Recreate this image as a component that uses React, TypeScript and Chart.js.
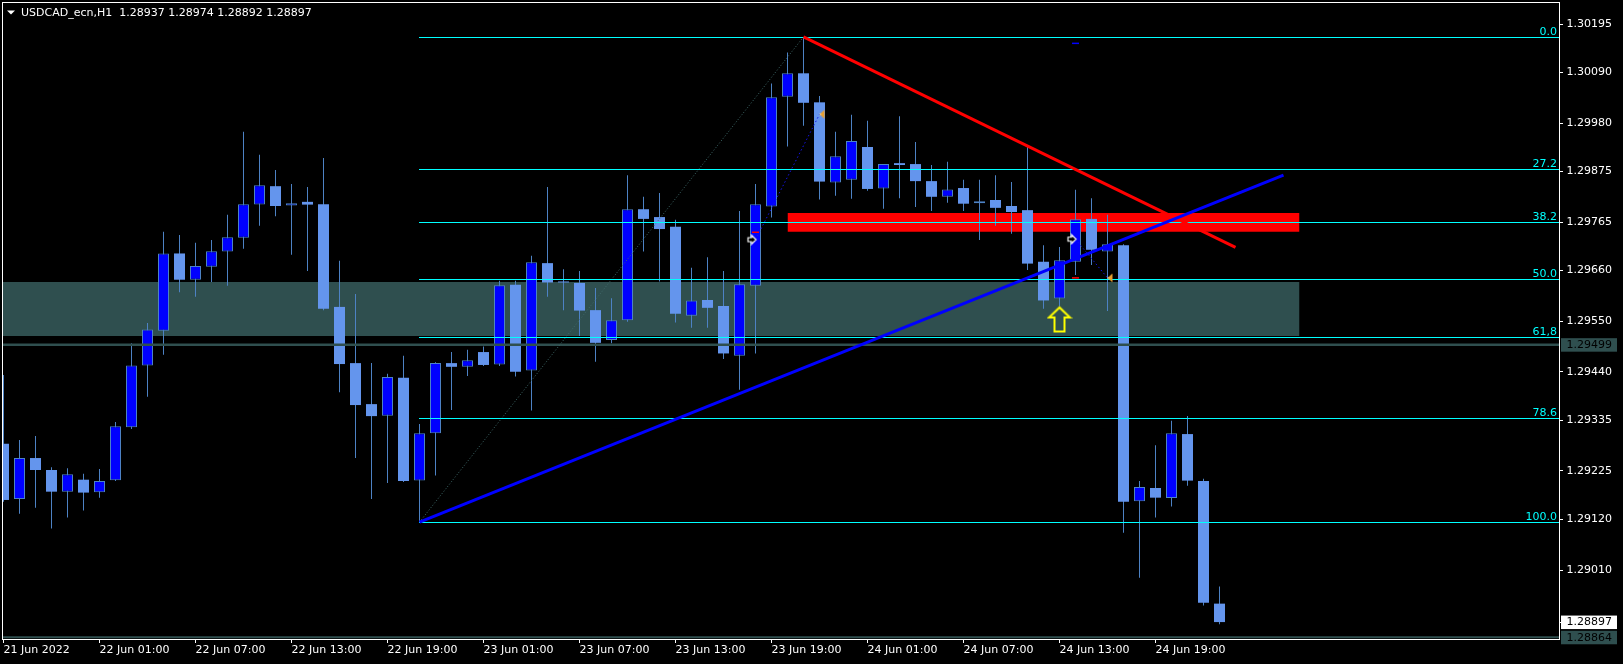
import React, { useEffect, useRef } from "react";
import { Chart, registerables } from "chart.js";

Chart.register(...registerables);

// ---------------- data ----------------
const SYMBOL = "USDCAD_ecn,H1";

const opens = [
  1.29284, 1.29164, 1.29253, 1.29227, 1.29180, 1.29206, 1.29179, 1.29205, 1.29320, 1.29454,
  1.29529, 1.29697, 1.29640, 1.29668, 1.29701, 1.29731, 1.29803, 1.29843, 1.29801, 1.29809,
  1.29804, 1.29581, 1.29459, 1.29370, 1.29345, 1.29427, 1.29204, 1.29307, 1.29459, 1.29451,
  1.29483, 1.29456, 1.29629, 1.29443, 1.29676, 1.29636, 1.29633, 1.29574, 1.29509, 1.29552,
  1.29793, 1.29776, 1.29755, 1.29562, 1.29596, 1.29583, 1.29475, 1.29627, 1.29799, 1.30037,
  1.30088, 1.30025, 1.29851, 1.29857, 1.29928, 1.29838, 1.29893, 1.29891, 1.29854, 1.29820,
  1.29839, 1.29806, 1.29813, 1.29800, 1.29791, 1.29679, 1.29599, 1.29679, 1.29772, 1.29701,
  1.29715, 1.29159, 1.29188, 1.29166, 1.29305, 1.29203, 1.28937,
];
const highs = [
  1.29433, 1.29292, 1.29301, 1.29233, 1.29231, 1.29219, 1.29229, 1.29331, 1.29502, 1.29546,
  1.29744, 1.29737, 1.29720, 1.29726, 1.29781, 1.29961, 1.29911, 1.29878, 1.29848, 1.29841,
  1.29904, 1.29681, 1.29609, 1.29459, 1.29436, 1.29475, 1.29327, 1.29461, 1.29483, 1.29488,
  1.29495, 1.29638, 1.29638, 1.29692, 1.29841, 1.29663, 1.29659, 1.29622, 1.29600, 1.29867,
  1.29820, 1.29828, 1.29770, 1.29666, 1.29689, 1.29659, 1.29789, 1.29848, 1.30066, 1.30133,
  1.30167, 1.30039, 1.29961, 1.29998, 1.29985, 1.29891, 1.29995, 1.29939, 1.29889, 1.29896,
  1.29857, 1.29857, 1.29867, 1.29852, 1.29932, 1.29715, 1.29711, 1.29835, 1.29817, 1.29781,
  1.29717, 1.29203, 1.29281, 1.29334, 1.29344, 1.29208, 1.28974,
];
const lows = [
  1.29158, 1.29132, 1.29145, 1.29100, 1.29124, 1.29139, 1.29167, 1.29203, 1.29316, 1.29386,
  1.29477, 1.29613, 1.29603, 1.29635, 1.29627, 1.29707, 1.29757, 1.29778, 1.29694, 1.29659,
  1.29574, 1.29396, 1.29253, 1.29164, 1.29199, 1.29201, 1.29114, 1.29215, 1.29357, 1.29431,
  1.29453, 1.29453, 1.29430, 1.29356, 1.29603, 1.29574, 1.29518, 1.29462, 1.29502, 1.29549,
  1.29701, 1.29636, 1.29547, 1.29536, 1.29536, 1.29468, 1.29401, 1.29480, 1.29775, 1.29929,
  1.29974, 1.29814, 1.29822, 1.29816, 1.29833, 1.29794, 1.29817, 1.29798, 1.29789, 1.29807,
  1.29789, 1.29726, 1.29757, 1.29740, 1.29661, 1.29577, 1.29582, 1.29650, 1.29672, 1.29572,
  1.29091, 1.28993, 1.29124, 1.29148, 1.29193, 1.28933, 1.28892,
];
const closes = [
  1.29162, 1.29253, 1.29227, 1.29180, 1.29218, 1.29178, 1.29203, 1.29322, 1.29454, 1.29532,
  1.29697, 1.29640, 1.29670, 1.29702, 1.29732, 1.29804, 1.29845, 1.29800, 1.29806, 1.29803,
  1.29577, 1.29457, 1.29368, 1.29344, 1.29429, 1.29203, 1.29307, 1.29459, 1.29451, 1.29465,
  1.29455, 1.29628, 1.29440, 1.29678, 1.29634, 1.29634, 1.29573, 1.29503, 1.29552, 1.29793,
  1.29772, 1.29750, 1.29566, 1.29595, 1.29579, 1.29480, 1.29630, 1.29804, 1.30036, 1.30088,
  1.30024, 1.29853, 1.29908, 1.29941, 1.29837, 1.29891, 1.29889, 1.29854, 1.29820, 1.29836,
  1.29805, 1.29810, 1.29796, 1.29787, 1.29675, 1.29595, 1.29682, 1.29771, 1.29705, 1.29717,
  1.29158, 1.29190, 1.29167, 1.29307, 1.29204, 1.28939, 1.28897,
];

const yTickValues = [
  1.30195, 1.3009, 1.2998, 1.29875, 1.29765, 1.2966, 1.2955, 1.2944, 1.29335, 1.29225, 1.2912, 1.2901,
];
const xTickBars = [0, 6, 12, 18, 24, 30, 36, 42, 48, 54, 60, 66, 72];
const xTickLabels = [
  "21 Jun 2022", "22 Jun 01:00", "22 Jun 07:00", "22 Jun 13:00", "22 Jun 19:00",
  "23 Jun 01:00", "23 Jun 07:00", "23 Jun 13:00", "23 Jun 19:00", "24 Jun 01:00",
  "24 Jun 07:00", "24 Jun 13:00", "24 Jun 19:00",
];

// Fibonacci retracement
const fibLevels = [0, 27.2, 38.2, 50, 61.8, 78.6, 100];
const fibLabels = ["0.0", "27.2", "38.2", "50.0", "61,8", "78.6", "100.0"];
const fibHigh = 1.30167;
const fibLow = 1.29114;
const fibLowBar = 26;
const fibHighBar = 50;

// zones / lines
const zoneBox = [-2, 81, 1.29635, 1.29518]; // startBar, endBar, top, bottom
const redBox = [49, 81, 1.29785, 1.29744];
const redTrend = [50, 1.30167, 77, 1.2971];
const blueTrend = [26, 1.29114, 80, 1.29867];
const hLineMid = 1.29499;
const hLineLow = 1.28864;

// trade markers: [openBar, openPrice, closeBar, closePrice]
const trades = [
  [47, 1.29727, 51, 1.29999],
  [67, 1.29728, 69, 1.29644],
];
const stopMarks = [
  [47, 1.29743],
  [67, 1.29644],
];
const tpMarks = [[67, 1.30153]];
const signalArrow = [66, 1.29582];

// ---------------- axis ranges ----------------
const X_MIN = -0.09375;
const X_MAX = 97.21875;
const Y_MAX = 1.3024275;
const Y_MIN = 1.2886025;

const FONT = "11px 'DejaVu Sans'";
const WICK = "#4D82C4";
const BEAR = "#6495ED";
const BULL = "#0000FF";
const SLATE = "#2F4F4F";
const FIBC = "#00FFFF";

function fibPrice(level: number) {
  return fibHigh - (level / 100) * (fibHigh - fibLow);
}

function makeCanvas(w: number, h: number, draw: (g: CanvasRenderingContext2D) => void) {
  const c = document.createElement("canvas");
  c.width = w;
  c.height = h;
  const g = c.getContext("2d")!;
  draw(g);
  return c;
}

export default function App() {
  const ref = useRef<HTMLCanvasElement>(null);

  useEffect(() => {
    document.body.style.margin = "0";
    document.body.style.background = "#000";
    const canvas = ref.current!;

    const idx = opens.map((_, i) => i);
    const wickData = idx.map((i) => ({ x: i, y: [lows[i], highs[i]] }));
    const bullData = idx
      .filter((i) => closes[i] >= opens[i])
      .map((i) => ({ x: i, y: [opens[i], closes[i]] }));
    const bearData = idx
      .filter((i) => closes[i] < opens[i])
      .map((i) => ({ x: i, y: [closes[i], opens[i]] }));

    // marker images
    const yellowArrow = makeCanvas(26, 60, (g) => {
      g.strokeStyle = "#FFFF00";
      g.lineWidth = 2;
      g.beginPath();
      g.moveTo(13, 31);
      g.lineTo(2.5, 41);
      g.lineTo(8, 41);
      g.lineTo(8, 55);
      g.lineTo(18, 55);
      g.lineTo(18, 41);
      g.lineTo(23.5, 41);
      g.closePath();
      g.stroke();
    });
    const entryArrow = makeCanvas(20, 12, (g) => {
      g.fillStyle = "#000";
      g.strokeStyle = "#FFFFFF";
      g.lineWidth = 1.2;
      g.beginPath();
      g.moveTo(2.5, 4);
      g.lineTo(6, 4);
      g.lineTo(6, 1.5);
      g.lineTo(10.5, 6);
      g.lineTo(6, 10.5);
      g.lineTo(6, 8);
      g.lineTo(2.5, 8);
      g.closePath();
      g.fill();
      g.stroke();
    });
    const closeTri = makeCanvas(14, 10, (g) => {
      g.fillStyle = "#E8A030";
      g.beginPath();
      g.moveTo(7, 5);
      g.lineTo(12, 0.5);
      g.lineTo(12, 9.5);
      g.closePath();
      g.fill();
      g.fillStyle = "#FFF3D0";
      g.fillRect(7, 4.5, 1.5, 1);
    });

    const line = (pts: { x: number; y: number }[], color: string, width: number, order: number, dash: number[] = []) => ({
      type: "line",
      data: pts,
      borderColor: color,
      borderWidth: width,
      borderDash: dash,
      pointRadius: 0,
      fill: false,
      tension: 0,
      order,
    });
    const box = (b: number[], color: string, order: number) => ({
      type: "line",
      data: [
        { x: b[0], y: b[2] },
        { x: b[1], y: b[2] },
      ],
      borderColor: "transparent",
      borderWidth: 1,
      pointRadius: 0,
      backgroundColor: color,
      fill: { value: b[3] },
      order,
    });

    const fibDiag = line(
      [
        { x: fibLowBar, y: fibLow },
        { x: fibHighBar, y: fibHigh },
      ],
      "#3F6A6A",
      1,
      11,
      [1, 2]
    );

    const datasets: any[] = [
      box(zoneBox, SLATE, 20),
      box(redBox, "#FF0000", 19),
      {
        type: "bar",
        data: wickData,
        backgroundColor: WICK,
        borderWidth: 0,
        barThickness: 1,
        grouped: false,
        minBarLength: 1,
        inflateAmount: 0,
        order: 15,
      },
      {
        type: "bar",
        data: bearData,
        backgroundColor: BEAR,
        borderWidth: 0,
        barThickness: 11,
        grouped: false,
        minBarLength: 1,
        inflateAmount: 0,
        order: 14,
      },
      {
        type: "bar",
        data: bullData,
        backgroundColor: BULL,
        borderColor: WICK,
        borderWidth: 1,
        borderSkipped: false,
        barThickness: 11,
        grouped: false,
        minBarLength: 2,
        inflateAmount: 0,
        order: 14,
      },
      line([{ x: X_MIN - 1, y: hLineMid }, { x: X_MAX + 1, y: hLineMid }], SLATE, 2.5, 12),
      line([{ x: X_MIN - 1, y: hLineLow }, { x: X_MAX + 1, y: hLineLow }], SLATE, 2, 12),
      fibDiag,
      line(
        [
          { x: redTrend[0], y: redTrend[1] },
          { x: redTrend[2], y: redTrend[3] },
        ],
        "#FF0000",
        3,
        8
      ),
      line(
        [
          { x: blueTrend[0], y: blueTrend[1] },
          { x: blueTrend[2], y: blueTrend[3] },
        ],
        "#0000FF",
        3,
        7
      ),
      ...trades.map((t) =>
        line(
          [
            { x: t[0], y: t[1] },
            { x: t[2], y: t[3] },
          ],
          "#1414E6",
          1,
          6,
          [1.5, 2.5]
        )
      ),
      {
        type: "line",
        showLine: false,
        data: stopMarks.map((m) => ({ x: m[0], y: m[1] })),
        pointStyle: "line",
        pointRadius: 3.5,
        pointBorderColor: "#FF0000",
        pointBorderWidth: 1.5,
        order: 5,
      },
      {
        type: "line",
        showLine: false,
        data: tpMarks.map((m) => ({ x: m[0], y: m[1] })),
        pointStyle: "line",
        pointRadius: 3.5,
        pointBorderColor: "#0000FF",
        pointBorderWidth: 1.5,
        order: 5,
      },
      {
        type: "line",
        showLine: false,
        data: trades.map((t) => ({ x: t[0], y: t[1] })),
        pointStyle: entryArrow,
        pointRadius: 6,
        order: 4,
      },
      {
        type: "line",
        showLine: false,
        data: trades.map((t) => ({ x: t[2], y: t[3] })),
        pointStyle: closeTri,
        pointRadius: 6,
        order: 4,
      },
      {
        type: "line",
        showLine: false,
        data: [{ x: signalArrow[0], y: signalArrow[1] }],
        pointStyle: yellowArrow,
        pointRadius: 12,
        order: 3,
      },
    ];
    const fibDiagIndex = datasets.indexOf(fibDiag);

    const last = opens.length - 1;

    const overlay = {
      id: "mtOverlay",
      afterDatasetDraw(chart: any, args: any) {
        if (args.index !== fibDiagIndex) return;
        const { ctx, chartArea: a, scales } = chart;
        const ys = scales.y;
        const x0 = Math.round(scales.x.getPixelForValue(fibLowBar));
        ctx.save();
        ctx.beginPath();
        ctx.rect(a.left, a.top, a.right - a.left, a.bottom - a.top);
        ctx.clip();
        ctx.strokeStyle = FIBC;
        ctx.lineWidth = 1;
        fibLevels.forEach((lv) => {
          const py = Math.round(ys.getPixelForValue(fibPrice(lv))) + 0.5;
          ctx.beginPath();
          ctx.moveTo(x0, py);
          ctx.lineTo(a.right, py);
          ctx.stroke();
        });
        ctx.font = FONT;
        ctx.fillStyle = FIBC;
        ctx.textAlign = "right";
        ctx.textBaseline = "alphabetic";
        fibLevels.forEach((lv, k) => {
          const py = Math.round(ys.getPixelForValue(fibPrice(lv)));
          ctx.fillText(fibLabels[k], a.right - 2, py - 2);
        });
        ctx.restore();
      },
      afterDraw(chart: any) {
        const { ctx, chartArea: a, scales } = chart;
        const ys = scales.y;
        ctx.save();
        // frame
        ctx.strokeStyle = "#FFFFFF";
        ctx.lineWidth = 1;
        ctx.strokeRect(a.left + 0.5, a.top + 0.5, a.right - a.left, a.bottom - a.top);

        ctx.font = FONT;
        // price boxes on the axis
        const priceBox = (price: number, bg: string, fg: string, tick: boolean) => {
          const py = ys.getPixelForValue(price);
          ctx.fillStyle = bg;
          ctx.fillRect(a.right + 2, py - 6.5, 56, 13.5);
          if (tick) {
            ctx.strokeStyle = "#FFFFFF";
            ctx.beginPath();
            ctx.moveTo(a.right, Math.round(py) + 0.5);
            ctx.lineTo(a.right + 4, Math.round(py) + 0.5);
            ctx.stroke();
          }
          ctx.fillStyle = fg;
          ctx.textAlign = "left";
          ctx.textBaseline = "middle";
          ctx.fillText(price.toFixed(5), a.right + 7.5, py + 0.5);
        };
        priceBox(hLineMid, SLATE, "#000000", false);
        priceBox(closes[last], "#FFFFFF", "#000000", true);
        priceBox(hLineLow, SLATE, "#000000", false);

        // header
        ctx.fillStyle = "#FFFFFF";
        ctx.beginPath();
        ctx.moveTo(7, 10.5);
        ctx.lineTo(15, 10.5);
        ctx.lineTo(11, 14.5);
        ctx.closePath();
        ctx.fill();
        ctx.textAlign = "left";
        ctx.textBaseline = "middle";
        const head =
          SYMBOL +
          "  " +
          [opens[last], highs[last], lows[last], closes[last]].map((v) => v.toFixed(5)).join(" ");
        ctx.fillText(head, 21, 13);
        ctx.restore();
      },
    };

    const chart = new Chart(canvas, {
      type: "bar",
      data: { datasets },
      plugins: [overlay],
      options: {
        responsive: false,
        maintainAspectRatio: false,
        animation: false,
        devicePixelRatio: 1,
        events: [],
        layout: { padding: { left: 2, top: 2, right: 0, bottom: 0 }, autoPadding: false },
        plugins: {
          legend: { display: false },
          tooltip: { enabled: false },
          title: { display: false },
        },
        scales: {
          x: {
            type: "linear",
            position: "bottom",
            min: X_MIN,
            max: X_MAX,
            offset: false,
            bounds: "data",
            grid: {
              display: true,
              drawOnChartArea: false,
              drawTicks: true,
              tickLength: 4,
              color: "#FFFFFF",
              lineWidth: 1,
              offset: false,
            },
            border: { display: false },
            ticks: {
              autoSkip: false,
              maxRotation: 0,
              minRotation: 0,
              align: "start",
              padding: 1,
              color: "#FFFFFF",
              font: { family: "DejaVu Sans", size: 11 },
              callback: (_v: any, i: number) => xTickLabels[i] ?? "",
            },
            afterBuildTicks: (s: any) => {
              s.ticks = xTickBars.map((v) => ({ value: v }));
            },
            afterFit: (s: any) => {
              s.height = 25;
              s.paddingLeft = 0;
              s.paddingRight = 0;
              s.paddingTop = 0;
              s.paddingBottom = 0;
            },
          },
          y: {
            type: "linear",
            position: "right",
            min: Y_MIN,
            max: Y_MAX,
            bounds: "data",
            beginAtZero: false,
            grid: {
              display: true,
              drawOnChartArea: false,
              drawTicks: true,
              tickLength: 4,
              color: "#FFFFFF",
              lineWidth: 1,
            },
            border: { display: false },
            ticks: {
              padding: 3.5,
              color: "#FFFFFF",
              font: { family: "DejaVu Sans", size: 11 },
              callback: (v: any) => Number(v).toFixed(5),
            },
            afterBuildTicks: (s: any) => {
              s.ticks = yTickValues.map((v) => ({ value: v }));
            },
            afterFit: (s: any) => {
              s.width = 64;
              s.paddingLeft = 0;
              s.paddingRight = 0;
              s.paddingTop = 0;
              s.paddingBottom = 0;
            },
          },
        },
      } as any,
    } as any);

    return () => chart.destroy();
  }, []);

  return (
    <div style={{ position: "fixed", left: 0, top: 0, width: 1623, height: 664, background: "#000" }}>
      <canvas ref={ref} width={1623} height={664} style={{ display: "block", width: 1623, height: 664 }} />
    </div>
  );
}
